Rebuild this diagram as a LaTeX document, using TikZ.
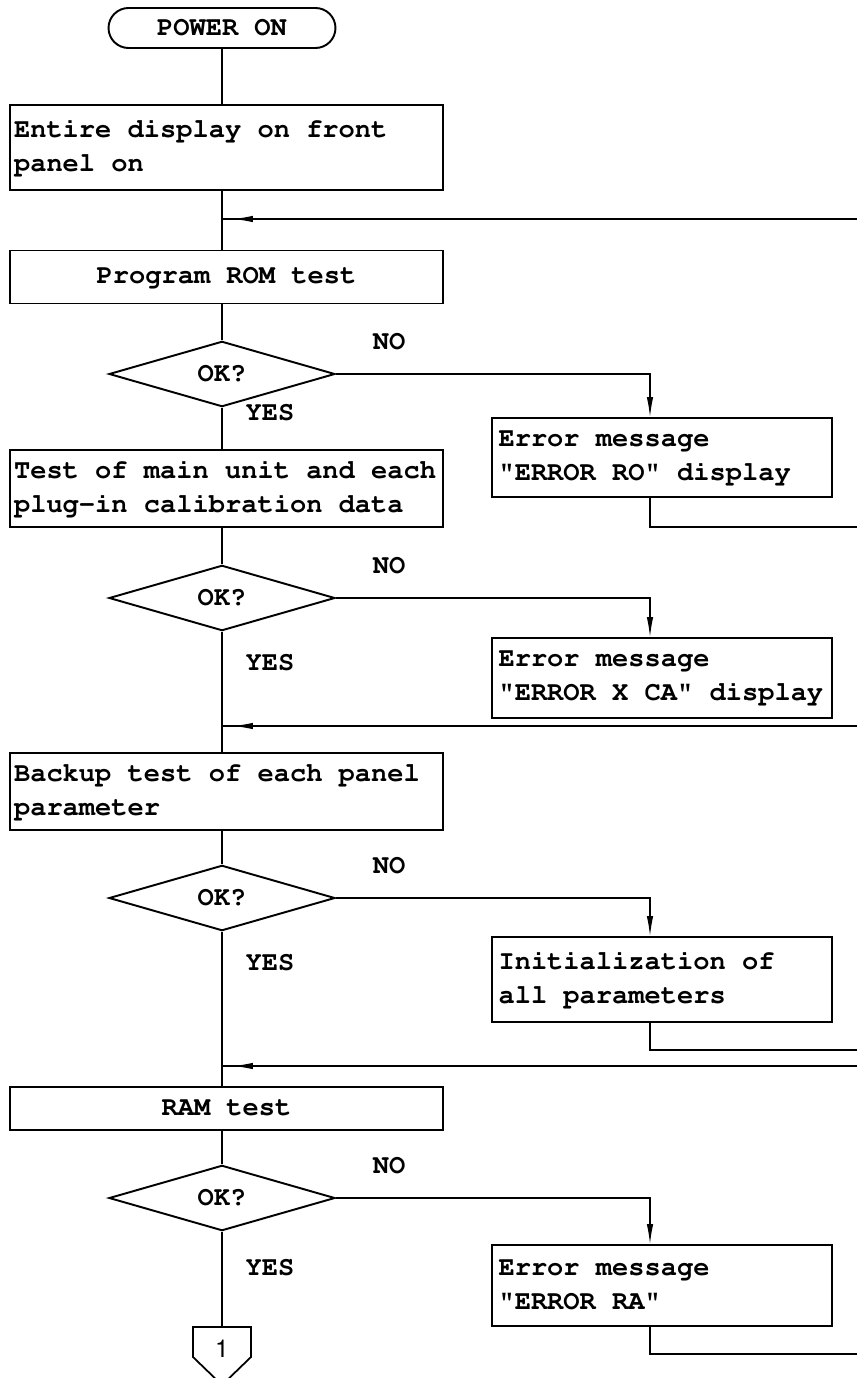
\documentclass[tikz,border=0pt]{standalone}
\usepackage[T1]{fontenc}
\usepackage{courier}
\usepackage{tikz}
\usetikzlibrary{arrows.meta,shapes.geometric,decorations.markings,calc}
% typewriter text with full-pitch word spaces
{\catcode`\ =\active\gdef\pitchspaces{\catcode`\ =\active\def {\hskip0.6em\relax}}}
\newcommand\flowfont{\ttfamily\bfseries\fontsize{15.4}{19.4}\selectfont\pitchspaces}

\begin{document}
\begin{tikzpicture}[x=0.02cm, y=-0.02cm, >={Latex[length=0.4cm,width=0.13cm]},
  every node/.style={font=\flowfont},
  term/.style={draw, line width=1.1pt, rounded corners=0.4cm, minimum width=4.54cm, minimum height=0.8cm},
  box/.style={draw, line width=1.1pt, text width=8.5cm, inner xsep=0.08cm, inner ysep=0pt, align=left},
  errbox/.style={draw, line width=1.1pt, text width=6.54cm, inner xsep=0.13cm, inner ysep=0pt, align=left},
  decide/.style={draw, diamond, line width=1.1pt, minimum width=4.52cm, minimum height=1.14cm, inner sep=0pt},
  flow/.style={line width=0.7pt},
  back/.style={flow, decoration={markings, mark=at position -0.22cm with {\arrow{>}}}, postaction={decorate}}]
  \useasboundingbox (0,0) rectangle (857,1378);
  \coordinate (ax) at (222,0);
  \coordinate (rc) at (650,0);
  % Main column
  \node[term] (power) at (222,28) {POWER ON};
  \node[box, minimum height=1.7cm] (disp) at (226.5,147.5) {Entire display on front\\panel on};
  \node[box, align=center, minimum height=1.06cm] (rom) at (226.5,277) {Program ROM test};
  \node[decide] (ok1) at (222,374) {OK?};
  \node[box, minimum height=1.54cm] (calib) at (226.5,488.5) {Test of main unit and each\\plug-in calibration data};
  \node[decide] (ok2) at (222,598) {OK?};
  \node[box, minimum height=1.54cm] (backup) at (226.5,791.5) {Backup test of each panel\\parameter};
  \node[decide] (ok3) at (222,898) {OK?};
  \node[box, align=center, minimum height=0.86cm] (ram) at (226.5,1108.5) {RAM test};
  \node[decide] (ok4) at (222,1198) {OK?};
  \node[font=\fontfamily{phv}\selectfont\fontsize{14}{16}\selectfont] (pg) at (222,1349) {1};
  \coordinate (pgtop) at ($(pg)+(0,-22)$);
  \draw[line width=1pt] ($(pg)+(-29,-22)$) -- ($(pg)+(29,-22)$) -- ($(pg)+(29,8)$)
    -- ($(pg)+(0,36)$) -- ($(pg)+(-29,8)$) -- cycle;
  % Error branch
  \node[errbox, minimum height=1.58cm] (err1) at (662,457.5) {Error message\\"ERROR RO" display};
  \node[errbox, minimum height=1.6cm] (err2) at (662,678) {Error message\\"ERROR X CA" display};
  \node[errbox, minimum height=1.7cm] (init) at (662,979.5) {Initialization of\\all parameters};
  \node[errbox, minimum height=1.62cm] (err4) at (662,1285.5) {Error message\\"ERROR RA"};
  % Labels
  \foreach \y [count=\i] in {374,598,898,1198}
    \node (no\i) at (389,\y-32) {NO};
  \foreach \y [count=\i] in {413,663,963,1268}
    \node (yes\i) at (270,\y) {YES};
  % Flow lines
  \draw[flow] (power) -- (power |- disp.north);
  \draw[flow] (ax |- disp.south) -- (ax |- rom.north);
  \draw[flow] (ax |- rom.south) -- (ok1);
  \draw[flow] (ok1) -- (ax |- calib.north);
  \draw[flow] (ax |- calib.south) -- (ok2);
  \draw[flow] (ok2) -- (ax |- backup.north);
  \draw[flow] (ax |- backup.south) -- (ok3);
  \draw[flow] (ok3) -- (ax |- ram.north);
  \draw[flow] (ax |- ram.south) -- (ok4);
  \draw[flow] (ok4) -- (pgtop);
  % NO branches
  \draw[flow,->] (ok1.east) -| (rc |- err1.north);
  \draw[flow,->] (ok2.east) -| (rc |- err2.north);
  \draw[flow,->] (ok3.east) -| (rc |- init.north);
  \draw[flow,->] (ok4.east) -| (rc |- err4.north);
  \coordinate (r1) at (857,527);
  \coordinate (r3) at (857,1050);
  \coordinate (r4) at (857,1354);
  \draw[flow] (rc |- err1.south) |- (r1);
  \draw[flow] (rc |- init.south) |- (r3);
  \draw[flow] (rc |- err4.south) |- (r4);
  % Returns
  \coordinate (t1) at (857,219);
  \coordinate (t2) at (857,726);
  \coordinate (t3) at (857,1066);
  \draw[back] (t1) -- (t1 -| ax);
  \draw[back] (t2) -- (t2 -| ax);
  \draw[back] (t3) -- (t3 -| ax);
\end{tikzpicture}
\end{document}
